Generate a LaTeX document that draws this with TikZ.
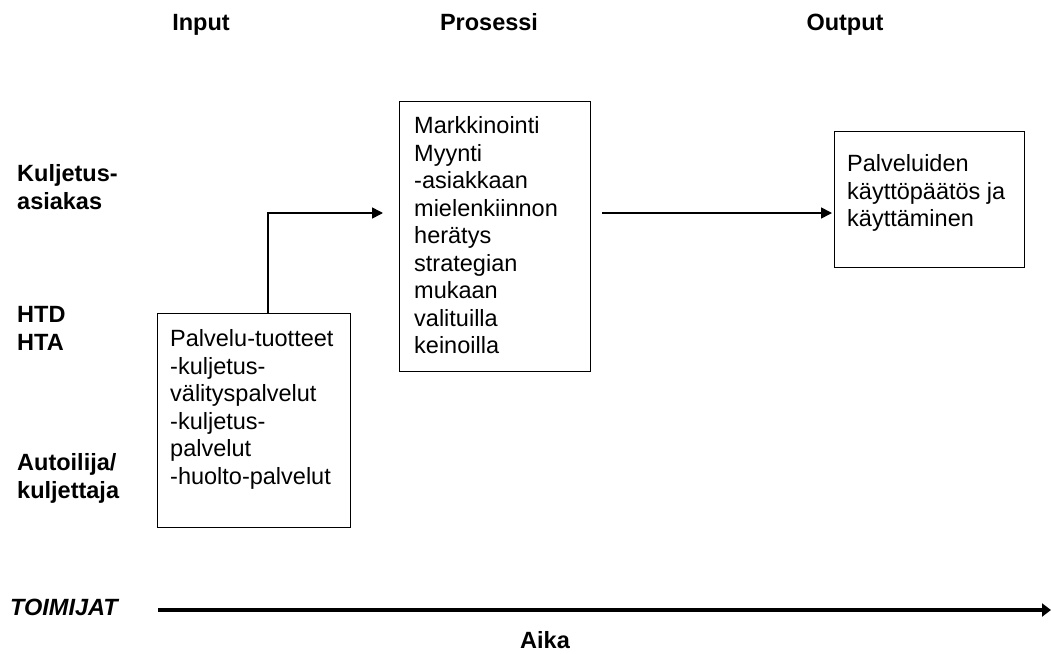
\documentclass[tikz,border=0pt]{standalone}
\usepackage{fontspec}
\setmainfont{Liberation Sans}
\usetikzlibrary{arrows.meta,calc}
\begin{document}
\begin{tikzpicture}[x=1pt,y=-1pt,
  txt/.style={font=\fontsize{23.5}{27.5}\selectfont, inner sep=0pt, align=left, anchor=north west},
  head/.style={font=\fontsize{23.5}{27.5}\selectfont\bfseries, inner sep=0pt},
  actor/.style={font=\fontsize{23.5}{27.5}\selectfont\bfseries, inner sep=0pt, align=left, anchor=north west},
  blockbox/.style={draw=black, line width=1.3pt, inner sep=0pt, anchor=north west},
  flow/.style={line width=1.6pt, -{Triangle[length=11pt,width=11pt]}},
  timeline/.style={line width=4.5pt, -{Triangle[length=9pt,width=13pt]}}
]
\useasboundingbox (0,0) rectangle (1051,653);

% column headings
\node[head, anchor=base] (hin)  at (201,30.5) {Input};
\node[head, anchor=base] (hpro) at (489,30.5) {Prosessi};
\node[head, anchor=base] (hout) at (845,30.5) {Output};

% actors
\node[actor] (a1) at (17,164.5) {Kuljetus-\\asiakas};
\node[actor] (a2) at (17,306.5) {HTD\\HTA};
\node[actor] (a3) at (17,453.5) {Autoilija/\\kuljettaja};
\node[head, font=\fontsize{23.5}{27.5}\selectfont\bfseries\itshape, anchor=base west] (toim) at (10,615.5) {TOIMIJAT};

% boxes
\node[blockbox, minimum width=193pt, minimum height=214pt] (box1) at (157,313) {};
\node[txt] (t1) at (170,329.5) {Palvelu-tuotteet\\-kuljetus-\\välityspalvelut\\-kuljetus-\\palvelut\\-huolto-palvelut};

\node[blockbox, minimum width=191pt, minimum height=270pt] (box2) at (399,100.5) {};
\node[txt] (t2) at (414,116.5) {Markkinointi\\Myynti\\-asiakkaan\\mielenkiinnon\\herätys\\strategian\\mukaan\\valituilla\\keinoilla};

\node[blockbox, minimum width=190pt, minimum height=136pt] (box3) at (834,131) {};
\node[txt] (t3) at (847,154.5) {Palveluiden\\käyttöpäätös ja\\käyttäminen};

% connectors
\coordinate (lvl) at (0,213);
\draw[flow] ([xshift=111pt]box1.north west) |- ($(box2.west |- lvl)+(-16,0)$);
\draw[flow] (box2.east |- lvl) ++(11,0) -- ($(box3.west |- lvl)+(-2,0)$);

% time axis
\coordinate (ax0) at (158,610);
\coordinate (ax1) at (1051,610);
\draw[timeline] (ax0) -- (ax1);
\node[head, anchor=base] (aika) at (545,648.5) {Aika};
\end{tikzpicture}
\end{document}
